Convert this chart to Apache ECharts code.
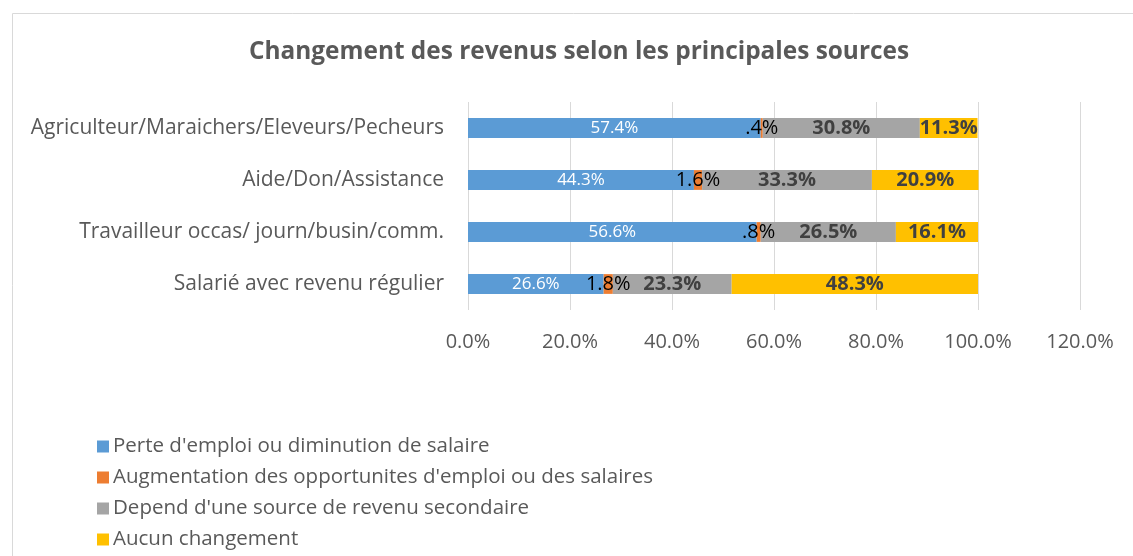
<!DOCTYPE html>
<html>
<head>
<meta charset="utf-8">
<script src="https://cdn.jsdelivr.net/npm/echarts@6/dist/echarts.min.js"></script>
<style>
	html, body { margin: 0; padding: 0; background: #fff; }
	#chart { width: 1133px; height: 556px; }
</style>
</head>
<body>
<div id="chart"></div>
<script>
// categories, top to bottom
var categories = ['Agriculteur/Maraichers/Eleveurs/Pecheurs', 'Aide/Don/Assistance', 'Travailleur occas/ journ/busin/comm.', 'Salarié avec revenu régulier'];
var seriesNames = ["Perte d'emploi ou diminution de salaire", "Augmentation des opportunites d'emploi ou des salaires", "Depend d'une source de revenu secondaire", "Aucun changement"];
// values in %
var perteEmploi = [57.4, 44.3, 56.6, 26.6];
var augmentation = [0.4, 1.6, 0.8, 1.8];
var dependSource = [30.8, 33.3, 26.5, 23.3];
var aucunChangement = [11.3, 20.9, 16.1, 48.3];
var tickValues = [0, 20, 40, 60, 80, 100, 120];

var colors = ['#5B9BD5', '#ED7D31', '#A5A5A5', '#FFC000'];
var font = 'Open Sans';

// 0.4 -> ".4%"
function pct(v) {
	var s = v.toFixed(1);
	if (s.indexOf('0.') === 0) s = s.substring(1);
	return s + '%';
}

function makeSeries(name, data, color, label) {
	return {
		name: name,
		type: 'bar',
		stack: 'total',
		barWidth: '38%',
		data: data,
		itemStyle: { color: color },
		label: Object.assign({
			show: true,
			position: 'inside',
			fontFamily: font,
			formatter: function(p) { return pct(p.value); }
		}, label)
	};
}

var myChart = echarts.init(document.getElementById('chart'));
var option = {
	color: colors,
	animation: false,
	title: {
		text: 'Changement des revenus selon les principales sources',
		left: 244,
		top: 35,
		textStyle: { fontFamily: font, fontSize: 24.4, fontWeight: 'bold', color: '#595959' }
	},
	graphic: [{
		type: 'rect',
		shape: { x: 12.5, y: 13.5, width: 1130, height: 550 },
		style: { fill: 'none', stroke: '#d9d9d9', lineWidth: 1 },
		silent: true
	}],
	legend: {
		orient: 'vertical',
		left: 92,
		top: 431,
		icon: 'rect',
		itemWidth: 12,
		itemHeight: 12,
		itemGap: 10,
		textStyle: { fontFamily: font, fontSize: 20.5, color: '#595959', lineHeight: 20, padding: [0, 0, 0, -1] },
		data: seriesNames
	},
	grid: { left: 468, right: 53, top: 102, height: 208 },
	xAxis: {
		type: 'value',
		min: 0,
		max: 120,
		interval: 20,
		axisLine: { show: false },
		axisTick: { show: false },
		splitLine: { lineStyle: { color: '#d9d9d9', width: 1 } },
		axisLabel: {
			margin: 22,
			fontFamily: font,
			fontSize: 20,
			color: '#595959',
			formatter: function(v) { return tickValues.indexOf(v) >= 0 ? v.toFixed(1) + '%' : ''; }
		}
	},
	yAxis: {
		type: 'category',
		inverse: true,
		data: categories,
		axisLine: { show: false },
		axisTick: { show: false },
		axisLabel: { margin: 24, fontFamily: font, fontSize: 21, color: '#595959' }
	},
	series: [
		makeSeries(seriesNames[0], perteEmploi, colors[0], { color: '#fff', fontSize: 17 }),
		makeSeries(seriesNames[1], augmentation, colors[1], { color: '#000', fontSize: 20 }),
		makeSeries(seriesNames[2], dependSource, colors[2], { color: '#404040', fontSize: 20, fontWeight: 'bold' }),
		makeSeries(seriesNames[3], aucunChangement, colors[3], { color: '#404040', fontSize: 20, fontWeight: 'bold' })
	]
};
myChart.setOption(option);
</script>
</body>
</html>
